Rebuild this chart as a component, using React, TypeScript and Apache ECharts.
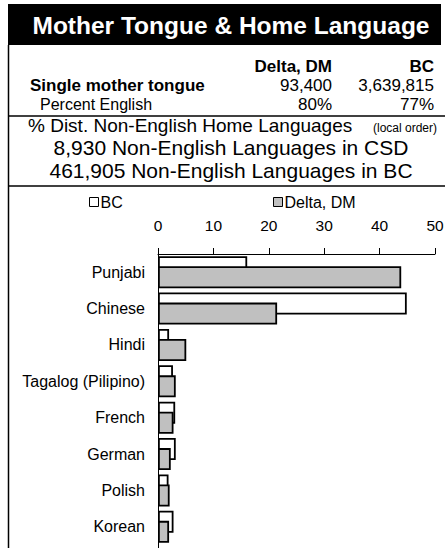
import React, { useEffect, useRef } from "react";
import * as echarts from "echarts";

const title = "Mother Tongue & Home Language";
const tableColumns = ["Delta, DM", "BC"];
const rowLabels = ["Single mother tongue", "Percent English"];
const deltaStats = ["93,400", "80%"];
const bcStats = ["3,639,815", "77%"];
const distTitle = "% Dist. Non-English Home Languages";
const distNote = "(local order)";
const csdLine = "8,930 Non-English Languages in CSD";
const bcLine = "461,905 Non-English Languages in BC";

const categories = [
  "Punjabi",
  "Chinese",
  "Hindi",
  "Tagalog (Pilipino)",
  "French",
  "German",
  "Polish",
  "Korean",
];
const bcValues = [16.1, 44.9, 2.0, 2.7, 3.1, 3.2, 1.9, 2.8];
const deltaValues = [43.9, 21.5, 5.1, 3.2, 2.8, 2.3, 2.1, 2.0];
const seriesNames = ["BC", "Delta, DM"];

const FONT = "'Liberation Sans', Arial, Helvetica, sans-serif";

export default function App() {
  const ref = useRef<HTMLDivElement>(null);

  useEffect(() => {
    if (!ref.current) return;
    const chart = echarts.init(ref.current, null, { renderer: "svg" });

    const txt = (
      text: string,
      x: number,
      y: number,
      size: number,
      align: string,
      bold = false,
      fill = "#000"
    ) => ({
      type: "text",
      x,
      y,
      silent: true,
      style: {
        text,
        fontSize: size,
        fontFamily: FONT,
        fontWeight: bold ? "bold" : "normal",
        fill,
        align,
        verticalAlign: "middle",
      },
    });

    const hline = (y: number) => ({
      type: "line",
      silent: true,
      shape: { x1: 8, y1: y, x2: 445, y2: y },
      style: { stroke: "#000", lineWidth: 1.5 },
    });

    const graphic: any[] = [
      {
        type: "rect",
        silent: true,
        shape: { x: 8, y: 4, width: 433, height: 41 },
        style: { fill: "#000" },
      },
      txt(title, 231, 25, 24.5, "center", true, "#fff"),
      {
        type: "line",
        silent: true,
        shape: { x1: 8.5, y1: 45, x2: 8.5, y2: 548 },
        style: { stroke: "#000", lineWidth: 1.5 },
      },
      {
        type: "line",
        silent: true,
        shape: { x1: 158.5, y1: 540, x2: 158.5, y2: 548 },
        style: { stroke: "#000", lineWidth: 1 },
      },
      txt(tableColumns[0], 332, 66, 17, "right", true),
      txt(tableColumns[1], 434, 66, 17, "right", true),
      txt(rowLabels[0], 30, 85, 17, "left", true),
      txt(deltaStats[0], 332, 85, 17, "right"),
      txt(bcStats[0], 434, 85, 17, "right"),
      txt(rowLabels[1], 40, 104, 16, "left"),
      txt(deltaStats[1], 332, 104, 17, "right"),
      txt(bcStats[1], 434, 104, 17, "right"),
      hline(116),
      txt(distTitle, 28, 125.5, 19, "left"),
      txt(distNote, 373, 128, 12, "left"),
      txt(csdLine, 231, 147.5, 21, "center"),
      txt(bcLine, 231, 170, 21, "center"),
      hline(186),
    ];

    const legendBase = {
      top: 194,
      padding: 0,
      itemWidth: 9,
      itemHeight: 9,
      selectedMode: false,
      textStyle: {
        fontSize: 16,
        color: "#000",
        fontFamily: FONT,
        padding: [0, 0, 0, -3],
      },
    };

    const option: any = {
      animation: false,
      backgroundColor: "#fff",
      textStyle: { fontFamily: FONT },
      graphic,
      legend: [
        {
          ...legendBase,
          left: 89,
          data: [
            {
              name: seriesNames[0],
              icon: "rect",
              itemStyle: { color: "#fff", borderColor: "#000", borderWidth: 1 },
            },
          ],
        },
        {
          ...legendBase,
          left: 273,
          data: [
            {
              name: seriesNames[1],
              icon: "rect",
              itemStyle: { color: "#c0c0c0", borderColor: "#000", borderWidth: 1 },
            },
          ],
        },
      ],
      grid: { left: 158, right: 12, top: 254, height: 291 },
      xAxis: {
        type: "value",
        position: "top",
        min: 0,
        max: 50,
        interval: 10,
        axisLine: { show: true, lineStyle: { color: "#000", width: 1 } },
        axisTick: { show: true, length: 6, lineStyle: { color: "#000" } },
        splitLine: { show: false },
        axisLabel: { fontSize: 15.5, color: "#000", margin: 21, fontFamily: FONT },
      },
      yAxis: {
        type: "category",
        inverse: true,
        data: categories,
        axisLine: { show: true, lineStyle: { color: "#000", width: 1 } },
        axisTick: { show: false },
        axisLabel: { fontSize: 16, color: "#000", margin: 13, fontFamily: FONT },
      },
      series: [
        {
          name: seriesNames[0],
          type: "bar",
          data: bcValues,
          barWidth: 22,
          barGap: "-54%",
          itemStyle: { color: "#fff", borderColor: "#000", borderWidth: 1.8 },
        },
        {
          name: seriesNames[1],
          type: "bar",
          data: deltaValues,
          barWidth: 22,
          barGap: "-54%",
          itemStyle: { color: "#c0c0c0", borderColor: "#000", borderWidth: 1.8 },
        },
      ],
    };

    chart.setOption(option);
    return () => chart.dispose();
  }, []);

  return (
    <div
      ref={ref}
      style={{ position: "fixed", left: 0, top: 0, width: 447, height: 548, background: "#fff" }}
    />
  );
}
